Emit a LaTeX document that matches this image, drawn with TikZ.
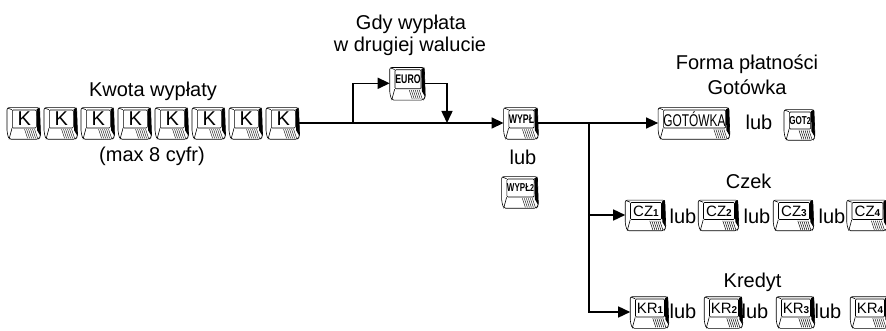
\documentclass[tikz,border=0pt]{standalone}
\usepackage{fontspec}
\setmainfont{Liberation Sans}
\newfontfamily\keyfont[FakeStretch=0.7]{Liberation Sans}
\usetikzlibrary{arrows.meta,calc}

\tikzset{
  keyline/.style={line width=0.6pt},
  keyface/.style={draw,line width=0.6pt,fill=white,rounded corners=1pt,inner sep=0pt,minimum height=17pt},
  flow/.style={line width=1.5pt,-{Triangle[length=12pt,width=11pt]}},
  lbl/.style={font=\fontsize{20}{24}\selectfont,anchor=base,inner sep=0pt}
}
\newcommand{\kdigit}[1]{{\fontsize{10}{10}\selectfont\bfseries #1}}
% key body round a face node: shadowed right side, bevel, hatching
\newcommand{\keybody}[1]{%
  \fill ([shift={(0pt,0.5pt)}]#1.north east) -- ([shift={(3pt,2pt)}]#1.north east)
    -- ([shift={(4pt,-8pt)}]#1.south east) -- ([shift={(0.5pt,-2pt)}]#1.south east) -- cycle;
  \draw[keyline,rounded corners=2pt] ([shift={(-5pt,-4pt)}]#1.south west) -- ([shift={(-5pt,2pt)}]#1.north west)
    -- ([shift={(3pt,2pt)}]#1.north east) -- ([shift={(4pt,-8pt)}]#1.south east)
    -- ([shift={(2pt,-11pt)}]#1.south east) -- ([shift={(-3pt,-11pt)}]#1.south west) -- cycle;
  \draw[keyline] (#1.south west) -- ([shift={(-3pt,-11pt)}]#1.south west);
  \draw[keyline] (#1.north west) -- ([shift={(-4pt,1.5pt)}]#1.north west);
  \foreach \h in {-12,-10,...,-2}
    \draw[line width=0.4pt] ([shift={(\h pt,-1pt)}]#1.south east) -- ++(3pt,-9pt);
}

\begin{document}
\begin{tikzpicture}[x=1pt,y=-1pt]
\useasboundingbox (0,0) rectangle (886,331);
% amount keys
\foreach \i in {1,...,8}
  \node[keyface,minimum width=24pt,minimum height=18pt,font=\fontsize{20}{20}\selectfont] (k\i) at ({24.3+37*(\i-1)},119) {K};
\foreach \i in {1,...,8} \keybody{k\i};
\node[lbl] (kwota) at (153,97) {Kwota wypłaty};
\node[lbl] (maxc) at (152,162) {(max 8 cyfr)};
% second currency
\node[keyface,minimum width=26pt,minimum height=19pt,font=\keyfont\bfseries\fontsize{12.5}{12}\selectfont] (euro) at (408,79.3) {EURO};
\keybody{euro}
\node[lbl] (gdy1) at (411,30) {Gdy wypłata};
\node[lbl] (gdy2) at (410,52) {w drugiej walucie};
% payout keys
\node[keyface,minimum width=23pt,minimum height=18pt,font=\keyfont\bfseries\fontsize{12.5}{12}\selectfont] (wypl) at (521.5,119) {WYPŁ};
\keybody{wypl}
\node[lbl] (lubw) at (523,165) {lub};
\node[keyface,minimum width=25pt,minimum height=18pt,font=\keyfont\bfseries\fontsize{11.5}{11}\selectfont] (wyplb) at (520.5,188) {WYPŁ\kdigit{2}};
\keybody{wyplb}
% cash
\node[lbl] (forma) at (747,70) {Forma płatności};
\node[lbl] (gotowka) at (747,95) {Gotówka};
\node[keyface,minimum width=59pt,minimum height=18pt,font=\keyfont\fontsize{17}{17}\selectfont] (got) at (694.5,119) {GOTÓWKA};
\keybody{got}
\node[lbl] (lubg) at (759,130) {lub};
\node[keyface,minimum width=20pt,minimum height=17pt,font=\keyfont\bfseries\fontsize{11.5}{11}\selectfont] (gotb) at (800,120.5) {GOT\kdigit{2}};
\keybody{gotb}
% cheque
\node[lbl] (czek) at (748.6,189) {Czek};
\foreach \x [count=\i] in {646,719,794,867.5}
  \node[keyface,minimum width=31pt,font=\fontsize{15}{15}\selectfont] (cz\i) at (\x,211) {CZ\kdigit{\i}};
\foreach \i in {1,...,4} \keybody{cz\i};
\foreach \x [count=\i] in {683,757,832}
  \node[lbl] (czlub\i) at (\x,223) {lub};
% credit
\node[lbl] (kredyt) at (752.6,287) {Kredyt};
\foreach \x [count=\i] in {650,724,796,870}
  \node[keyface,minimum width=29pt,minimum height=18pt,font=\fontsize{15}{15}\selectfont] (kr\i) at (\x,308) {KR\kdigit{\i}};
\foreach \i in {1,...,4} \keybody{kr\i};
\foreach \x [count=\i] in {683,755,828}
  \node[lbl] (krlub\i) at (\x,318) {lub};
% connectors
\coordinate (fork) at (353,123);
\coordinate (join) at (447,123);
\coordinate (drop) at (589,123);
\coordinate (czin) at ([shift={(-5pt,-4pt)}]cz1.west);
\coordinate (krin) at ([shift={(-5pt,-4pt)}]kr1.west);
\draw[flow] ([shift={(3pt,-4pt)}]k8.east) -- ([shift={(-5pt,-4pt)}]wypl.west);
\draw[flow] (fork) |- ([shift={(-5pt,-4pt)}]euro.west);
\draw[flow] ([shift={(3pt,-4pt)}]euro.east) -| (join);
\draw[flow] ([shift={(3pt,-4pt)}]wypl.east) -- ([shift={(-5pt,-4pt)}]got.west);
\draw[flow] (drop |- czin) -- (czin);
\draw[flow] (drop) |- (krin);
\end{tikzpicture}
\end{document}
